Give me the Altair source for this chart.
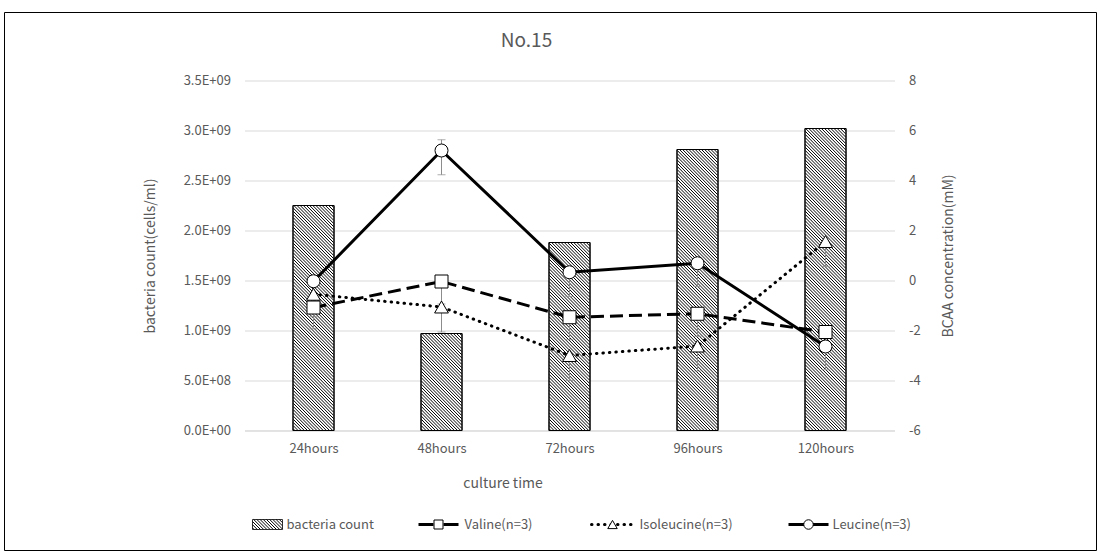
import json
import altair as alt
import pandas as pd

# ---------------- data ----------------
categories = ["24hours", "48hours", "72hours", "96hours", "120hours"]
bacteria_count = [2.25e9, 0.97e9, 1.88e9, 2.81e9, 3.02e9]

valine = [-1.08, -0.04, -1.47, -1.33, -2.06]
isoleucine = [-0.55, -1.06, -3.0, -2.62, 1.56]
leucine = [-0.03, 5.2, 0.33, 0.69, -2.64]

valine_err_low = [0.85, 0.9, 0.9, 0.9, 0.5]
valine_err_high = [0.0, 0.0, 0.0, 0.0, 0.0]
isoleucine_err_low = [0.9, 1.0, 1.0, 1.0, 1.0]
isoleucine_err_high = [0.0, 0.0, 0.0, 0.0, 0.0]
leucine_err_low = [0.9, 0.97, 0.97, 0.93, 0.93]
leucine_err_high = [0.0, 0.43, 0.0, 0.0, 0.0]

series_names = ["bacteria count", "Valine(n=3)", "Isoleucine(n=3)", "Leucine(n=3)"]

left_ticks = [0, 5e8, 1e9, 1.5e9, 2e9, 2.5e9, 3e9, 3.5e9]
left_tick_labels = ["0.0E+00", "5.0E+08", "1.0E+09", "1.5E+09",
                    "2.0E+09", "2.5E+09", "3.0E+09", "3.5E+09"]
right_ticks = [-6, -4, -2, 0, 2, 4, 6, 8]

title_text = "No.15"
x_title = "culture time"
left_title = "bacteria count(cells/ml)"
right_title = "BCAA concentration(mM)"

# ---------------- layout / style ----------------
W, H = 650, 350
PX_PER_CAT = W / len(categories)
COUNT_PER_PX = 3.5e9 / H
BAR_W = 41
HATCH_STEP = 3.2
FONT = "Noto Sans CJK JP"
GRAY = "#595959"
GRID = "#d9d9d9"
ERR = "#8c8c8c"

idx = list(range(len(categories)))

bars_df = pd.DataFrame({"idx": idx, "count": bacteria_count, "cat": categories})

# hatch segments derived from the bar values (texture of the bars)
hrows = []
for i, v in enumerate(bacteria_count):
    Hp = v / COUNT_PER_PX
    c = HATCH_STEP / 2
    while c < Hp + BAR_W:
        u0 = max(0.0, c - Hp)
        u1 = min(float(BAR_W), c)
        hrows.append({
            "hx1": i + (u0 - BAR_W / 2) / PX_PER_CAT,
            "hx2": i + (u1 - BAR_W / 2) / PX_PER_CAT,
            "hy1": (c - u0) * COUNT_PER_PX,
            "hy2": (c - u1) * COUNT_PER_PX,
        })
        c += HATCH_STEP
hatch_df = pd.DataFrame(hrows)


def series_df(name, vals, lo, hi):
    return pd.DataFrame({
        "idx": idx, "series": name, "value": vals,
        "lo": [v - e for v, e in zip(vals, lo)],
        "hi": [v + e for v, e in zip(vals, hi)],
        "has_hi": [e > 0 for e in hi],
    })


val_df = series_df(series_names[1], valine, valine_err_low, valine_err_high)
iso_df = series_df(series_names[2], isoleucine, isoleucine_err_low, isoleucine_err_high)
leu_df = series_df(series_names[3], leucine, leucine_err_low, leucine_err_high)
bcaa_df = pd.concat([val_df, iso_df, leu_df], ignore_index=True)
caps_df = pd.concat([
    bcaa_df[["idx", "lo"]].rename(columns={"lo": "cap"}),
    bcaa_df[bcaa_df["has_hi"]][["idx", "hi"]].rename(columns={"hi": "cap"}),
], ignore_index=True)

# ---------------- axes ----------------
x_axis = alt.Axis(
    values=idx,
    labelExpr=json.dumps(categories) + "[round(datum.value)]",
    grid=False, ticks=False, tickSize=0, domain=True, domainColor=GRID,
    labelPadding=12, labelFontSize=13, labelColor=GRAY, labelFont=FONT,
    title=x_title, titleFontSize=14, titleFontWeight="normal", titleColor=GRAY,
    titleFont=FONT, titleX=258, titleY=53, titleAlign="center", titleBaseline="middle",
)
x_scale = alt.Scale(domain=[-0.5, len(categories) - 0.5], nice=False, zero=False)

left_axis = alt.Axis(
    values=left_ticks,
    labelExpr=json.dumps(left_tick_labels) + "[round(datum.value / 5e8)]",
    grid=True, gridColor=GRID, domain=False, ticks=False, tickSize=0,
    labelPadding=14, labelFontSize=13, labelColor=GRAY, labelFont=FONT,
    title=left_title, titleFontSize=14, titleFontWeight="normal", titleColor=GRAY,
    titleFont=FONT, titleX=-94, titleY=H / 2, titleAngle=-90, titleAlign="center",
    titleBaseline="middle",
)
left_scale = alt.Scale(domain=[0, 3.5e9], nice=False, zero=True)

right_axis = alt.Axis(
    orient="right", values=right_ticks, labelExpr="'' + datum.value",
    grid=False, domain=False, ticks=False, tickSize=0,
    labelPadding=14, labelFontSize=13, labelColor=GRAY, labelFont=FONT,
    title=right_title, titleFontSize=14, titleFontWeight="normal", titleColor=GRAY,
    titleFont=FONT, titleX=54, titleY=H / 2, titleAngle=-90, titleAlign="center",
    titleBaseline="middle",
)
right_scale = alt.Scale(domain=[-6, 8], nice=False, zero=False)

X = lambda f: alt.X(f"{f}:Q", scale=x_scale, axis=x_axis)

# ---------------- left group (bars) ----------------
bars = alt.Chart(bars_df).mark_bar(size=BAR_W, fill="white", stroke="black", strokeWidth=1).encode(
    x=X("idx"), y=alt.Y("count:Q", scale=left_scale, axis=left_axis))
hatch = alt.Chart(hatch_df).mark_rule(color="black", strokeWidth=1).encode(
    x=X("hx1"), x2="hx2", y=alt.Y("hy1:Q", scale=left_scale, axis=left_axis), y2="hy2")
bar_outline = alt.Chart(bars_df).mark_bar(size=BAR_W, fillOpacity=0, stroke="black", strokeWidth=1).encode(
    x=X("idx"), y=alt.Y("count:Q", scale=left_scale, axis=left_axis))
left = alt.layer(bars, hatch, bar_outline)

# ---------------- right group (BCAA) ----------------
YR = lambda f: alt.Y(f"{f}:Q", scale=right_scale, axis=right_axis)
err = alt.Chart(bcaa_df).mark_rule(color=ERR, strokeWidth=1).encode(x=X("idx"), y=YR("lo"), y2="hi")
caps = alt.Chart(caps_df).mark_point(shape="stroke", size=64, color=ERR, strokeWidth=1, filled=False).encode(
    x=X("idx"), y=YR("cap"))

val_line = alt.Chart(val_df).mark_line(color="black", strokeWidth=3, strokeDash=[13, 6]).encode(
    x=X("idx"), y=YR("value"))
val_pts = alt.Chart(val_df).mark_point(shape="square", size=169, filled=True, fill="white",
                                       stroke="black", strokeWidth=1, opacity=1).encode(
    x=X("idx"), y=YR("value"))
iso_line = alt.Chart(iso_df).mark_line(color="black", strokeWidth=3, strokeDash=[0.5, 6],
                                       strokeCap="round").encode(x=X("idx"), y=YR("value"))
iso_pts = alt.Chart(iso_df).mark_point(shape="triangle-up", size=190, filled=True, fill="white",
                                       stroke="black", strokeWidth=1, opacity=1).encode(
    x=X("idx"), y=YR("value"))
leu_line = alt.Chart(leu_df).mark_line(color="black", strokeWidth=3).encode(x=X("idx"), y=YR("value"))
leu_pts = alt.Chart(leu_df).mark_point(shape="circle", size=169, filled=True, fill="white",
                                       stroke="black", strokeWidth=1, opacity=1).encode(
    x=X("idx"), y=YR("value"))
right = alt.layer(err, caps, val_line, val_pts, iso_line, iso_pts, leu_line, leu_pts)

# ---------------- decorations: border, title, legend ----------------
one = pd.DataFrame({"k": [0]})
OX, OY = 244, 80  # plot origin in page pixels


def vx(px):
    return alt.value(px - OX)


def vy(py):
    return alt.value(py - OY)


border = alt.Chart(one).mark_rect(fillOpacity=0, stroke="black", strokeWidth=1).encode(
    x=vx(4), x2=vx(1096), y=vy(12), y2=vy(550))
title = alt.Chart(one).mark_text(text=title_text, font=FONT, fontSize=19, color=GRAY,
                                 align="center", baseline="middle").encode(x=vx(526), y=vy(40))

LY = 524
deco = [border, title]

# legend swatch for bars (hatched)
sw_x0, sw_x1, sw_y0, sw_y1 = 252, 282, 519, 529
deco.append(alt.Chart(one).mark_rect(fill="white", stroke="black", strokeWidth=0.8).encode(
    x=vx(sw_x0), x2=vx(sw_x1), y=vy(sw_y0), y2=vy(sw_y1)))
srows = []
c = HATCH_STEP / 2
sw_w, sw_h = sw_x1 - sw_x0, sw_y1 - sw_y0
while c < sw_w + sw_h:
    u0 = max(0.0, c - sw_h)
    u1 = min(float(sw_w), c)
    srows.append({"a": sw_x0 + u0 - OX, "b": sw_x0 + u1 - OX,
                  "c": sw_y1 - (c - u0) - OY, "d": sw_y1 - (c - u1) - OY})
    c += HATCH_STEP
deco.append(alt.Chart(pd.DataFrame(srows)).mark_rule(color="black", strokeWidth=1).encode(
    x=alt.X("a:Q", scale=None, axis=None), x2="b",
    y=alt.Y("c:Q", scale=None, axis=None), y2="d"))


def legend_text(name, px):
    return alt.Chart(one).mark_text(text=name, font=FONT, fontSize=13, color=GRAY,
                                    align="left", baseline="middle").encode(x=vx(px), y=vy(LY))


deco.append(legend_text(series_names[0], 286))

# valine
deco.append(alt.Chart(one).mark_rule(color="black", strokeWidth=3).encode(
    x=vx(418), x2=vx(433), y=vy(LY)))
deco.append(alt.Chart(one).mark_rule(color="black", strokeWidth=3).encode(
    x=vx(443), x2=vx(458), y=vy(LY)))
deco.append(alt.Chart(one).mark_point(shape="square", size=81, filled=True, fill="white",
                                      stroke="black", strokeWidth=1, opacity=1).encode(
    x=vx(438), y=vy(LY)))
deco.append(legend_text(series_names[1], 464))

# isoleucine
deco.append(alt.Chart(one).mark_rule(color="black", strokeWidth=3, strokeDash=[0.5, 6],
                                     strokeCap="round").encode(x=vx(591), x2=vx(636), y=vy(LY)))
deco.append(alt.Chart(one).mark_point(shape="triangle-up", size=90, filled=True, fill="white",
                                      stroke="black", strokeWidth=1, opacity=1).encode(
    x=vx(612), y=vy(LY)))
deco.append(legend_text(series_names[2], 639))

# leucine
deco.append(alt.Chart(one).mark_rule(color="black", strokeWidth=3).encode(
    x=vx(788), x2=vx(828), y=vy(LY)))
deco.append(alt.Chart(one).mark_point(shape="circle", size=90, filled=True, fill="white",
                                      stroke="black", strokeWidth=1, opacity=1).encode(
    x=vx(808), y=vy(LY)))
deco.append(legend_text(series_names[3], 832))

chart = (
    alt.layer(left, right, *deco)
    .resolve_scale(y="independent")
    .properties(
        width=W, height=H,
        padding={"left": 3.5, "top": 11.5, "right": 0, "bottom": 0},
        background="white",
    )
    .configure(font=FONT)
    .configure_view(strokeWidth=0, stroke="transparent")
)

chart.save("out.html", embed_options={"renderer": "svg", "actions": False})
